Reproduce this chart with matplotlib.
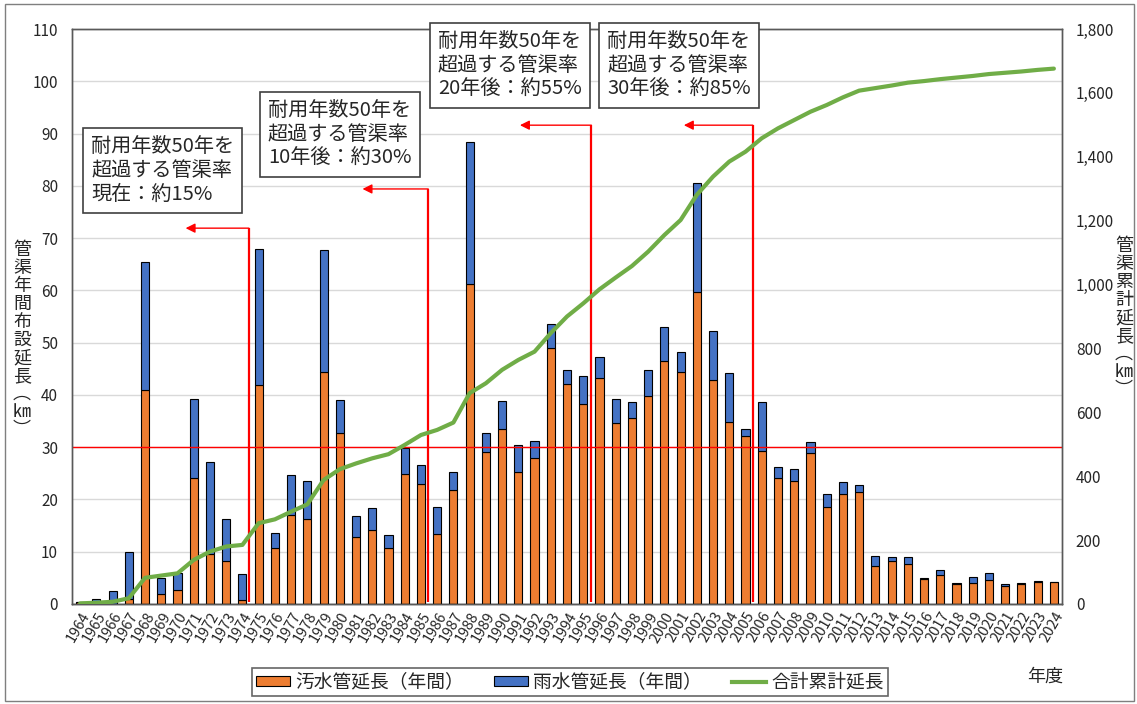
import numpy as np
import matplotlib
matplotlib.use("Agg")
import matplotlib.pyplot as plt
from matplotlib.patches import Rectangle, Patch
from matplotlib.lines import Line2D
from matplotlib.ticker import FuncFormatter

plt.rcParams['font.family'] = ['Noto Sans CJK JP', 'DejaVu Sans']

# data
years = list(range(1964, 2025))
sewage = [0.3, 0.0, 0.0, 1.0, 41.0, 1.9, 2.7, 24.1, 9.5, 8.2,
          0.8, 41.9, 10.8, 17.0, 16.3, 44.3, 32.7, 12.8, 14.2, 10.8,
          24.9, 23.0, 13.3, 21.9, 61.2, 29.1, 33.4, 25.3, 28.0, 48.9,
          42.1, 38.3, 43.2, 34.7, 35.6, 39.7, 46.5, 44.3, 59.6, 42.9,
          34.9, 32.1, 29.3, 24.2, 23.5, 28.9, 18.5, 21.0, 21.4, 7.2,
          8.2, 7.6, 4.8, 5.5, 3.9, 4.1, 4.5, 3.45, 3.9, 4.2,
          4.15]
storm = [0.0, 0.9, 2.5, 9.0, 24.5, 3.1, 3.2, 15.1, 17.7, 8.0,
         4.9, 26.1, 2.8, 7.7, 7.2, 23.5, 6.3, 4.0, 4.1, 2.4,
         5.0, 3.6, 5.3, 3.4, 27.1, 3.7, 5.5, 5.1, 3.1, 4.7,
         2.7, 5.3, 4.1, 4.5, 3.1, 5.1, 6.4, 3.9, 21.0, 9.4,
         9.2, 1.4, 9.4, 2.1, 2.3, 2.1, 2.5, 2.3, 1.3, 2.0,
         0.85, 1.3, 0.2, 1.1, 0.1, 1.1, 1.5, 0.45, 0.1, 0.25,
         0.15]
cumulative = [2, 4, 7, 18, 82, 89, 96, 138, 164, 180,
              185, 253, 265, 289, 312, 388, 422, 440, 456, 469,
              498, 529, 545, 568, 660, 691, 733, 764, 790, 848,
              900, 941, 985, 1022, 1058, 1103, 1155, 1202, 1281, 1338,
              1385, 1416, 1458, 1489, 1515, 1541, 1562, 1586, 1607, 1615,
              1623, 1632, 1637, 1643, 1648, 1653, 1659, 1663, 1667, 1672,
              1676]

# annotation boxes: text, red marker year position, arrow end, arrow height
notes = ["耐用年数50年を\n超過する管渠率\n現在：約15%",
         "耐用年数50年を\n超過する管渠率\n10年後：約30%",
         "耐用年数50年を\n超過する管渠率\n20年後：約55%",
         "耐用年数50年を\n超過する管渠率\n30年後：約85%"]
note_px = [(91, 136), (268, 100), (438, 31), (607, 31)]
marker_x = [10.4, 21.45, 31.5, 41.45]
arrow_tip = [6.5, 17.4, 27.1, 37.2]
arrow_y = [71.9, 79.4, 91.6, 91.6]

c_orange = '#ED7D31'
c_blue = '#4472C4'
c_green = '#70AD47'

W, H = 1137, 704
fig = plt.figure(figsize=(W / 100, H / 100), dpi=100)
ax = fig.add_axes([72 / W, 1 - 604 / H, 990 / W, 575 / H])
ax2 = ax.twinx()

x = np.arange(len(years))
ax.bar(x, sewage, width=0.5, color=c_orange, edgecolor='black', linewidth=0.8, zorder=2)
ax.bar(x, storm, width=0.5, bottom=sewage, color=c_blue, edgecolor='black', linewidth=0.8, zorder=2)

ax.set_xlim(-0.5, len(years) - 0.5)
ax.set_ylim(0, 110)
ax.set_yticks(range(0, 111, 10))
ax.yaxis.grid(True, color='#d9d9d9', linewidth=1)
ax.set_axisbelow(True)
ax.set_xticks(x)
ax.set_xticklabels([str(y) for y in years], rotation=60, ha='right',
                   rotation_mode='anchor', fontsize=10.5)
ax.tick_params(axis='both', length=0, colors='#262626')
ax.tick_params(axis='y', labelsize=11, pad=10)
ax.tick_params(axis='x', pad=4)

# red reference lines
ax.axhline(30, color='#FF0000', linewidth=1.0, zorder=3)
for mx, tip, ay in zip(marker_x, arrow_tip, arrow_y):
    ax.vlines(mx, 0.4, ay, color='#FF0000', linewidth=1.6, zorder=3)
    ax.annotate('', xy=(tip, ay), xytext=(mx, ay),
                arrowprops=dict(arrowstyle='-|>', color='#FF0000', lw=1.0,
                                mutation_scale=14, shrinkA=0, shrinkB=0),
                zorder=3)

ax2.plot(x, cumulative, color=c_green, linewidth=3, solid_capstyle='round', zorder=4)
ax2.set_ylim(0, 1800)
ax2.set_yticks(range(0, 1801, 200))
ax2.yaxis.set_major_formatter(FuncFormatter(lambda v, p: f"{int(v):,}"))
ax2.tick_params(axis='y', length=0, labelsize=11, pad=10, colors='#262626')

for a in (ax, ax2):
    for s in a.spines.values():
        s.set_color('#595959')
        s.set_linewidth(1)
ax.spines['bottom'].set_color('black')

# annotation boxes
for txt, (px, py) in zip(notes, note_px):
    fig.text(px / W, 1 - py / H, txt, ha='left', va='top', fontsize=14.5,
             color='#262626', linespacing=1.2, zorder=10,
             bbox=dict(boxstyle='square,pad=0.4', fc='white', ec='#404040', lw=1.2))

# vertical axis titles
left_label = "\n".join("管渠年間布設延長") + "\n︵\n㎞\n︶"
right_label = "\n".join("管渠累計延長") + "\n︵\n㎞\n︶"
fig.text(22 / W, 1 - 340 / H, left_label, ha='center', va='center', fontsize=13,
         linespacing=1.0, color='#262626')
fig.text(1124 / W, 1 - 318 / H, right_label, ha='center', va='center', fontsize=13,
         linespacing=1.0, color='#262626')
fig.text(1045 / W, 1 - 677 / H, "年度", ha='center', va='center', fontsize=13,
         color='#262626')

handles = [Patch(facecolor=c_orange, edgecolor='black', linewidth=0.8),
           Patch(facecolor=c_blue, edgecolor='black', linewidth=0.8),
           Line2D([0], [0], color=c_green, linewidth=3)]
labels = ["汚水管延長（年間）", "雨水管延長（年間）", "合計累計延長"]
leg = fig.legend(handles, labels, loc='center', bbox_to_anchor=(570 / W, 1 - 682 / H),
                 ncol=3, fontsize=13.5, frameon=True, fancybox=False, edgecolor='#404040',
                 handlelength=1.8, handleheight=0.5, handletextpad=0.3,
                 columnspacing=1.6, borderpad=0.2, labelcolor='#262626')
leg.get_frame().set_linewidth(1.2)

# outer frame
fig.patches.append(Rectangle((5 / W, 3 / H), 1 - 8 / W, 1 - 7 / H, transform=fig.transFigure,
                             fill=False, edgecolor='#7f7f7f', linewidth=1))

fig.savefig("out.png", dpi=100)
